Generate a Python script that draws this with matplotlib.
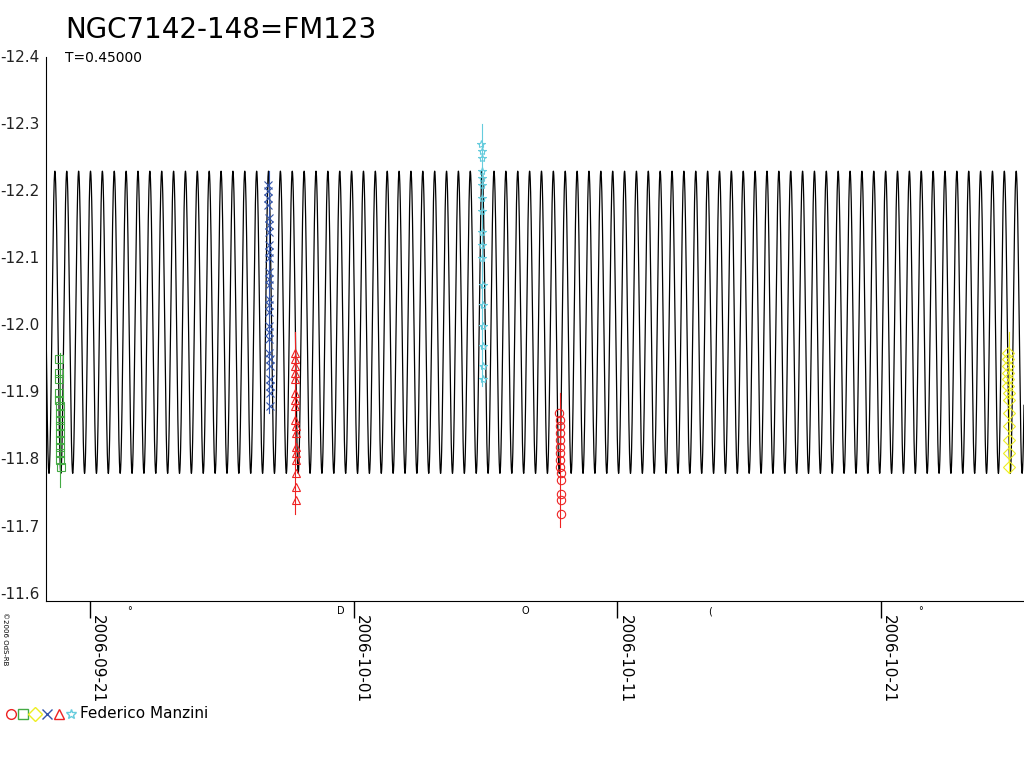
import numpy as np
import matplotlib.pyplot as plt
import matplotlib.dates as mdates
import matplotlib.transforms as mtransforms
from datetime import datetime

title = "NGC7142-148=FM123"
period = 0.45
model_lo, model_hi = -12.23, -11.78
t0 = mdates.date2num(datetime(2006, 9, 19, 8))
t1 = mdates.date2num(datetime(2006, 10, 26, 10))

# observing nights: (centre date, marker, colour, magnitudes)
night_dates = ["2006-09-19 20:30", "2006-09-27 19:00", "2006-09-28 19:00",
               "2006-10-05 21:00", "2006-10-08 20:00", "2006-10-25 20:00"]
night_markers = ["s", "x", "^", "*", "o", "D"]
night_colors = ["#44aa44", "#3355aa", "#ee2222", "#66ccdd", "#ee2222", "#eeee22"]
night_mags = [
    [-11.95, -11.93, -11.92, -11.90, -11.89, -11.88, -11.87, -11.86, -11.85, -11.84, -11.83, -11.82, -11.81, -11.80, -11.79],
    [-12.21, -12.20, -12.19, -12.18, -12.16, -12.15, -12.14, -12.12, -12.11, -12.10, -12.08, -12.07, -12.06, -12.04, -12.03,
     -12.02, -12.00, -11.99, -11.98, -11.96, -11.95, -11.94, -11.92, -11.91, -11.90, -11.88],
    [-11.96, -11.95, -11.94, -11.93, -11.92, -11.90, -11.89, -11.88, -11.86, -11.85, -11.84, -11.82, -11.81, -11.80, -11.78, -11.76, -11.74],
    [-12.27, -12.26, -12.25, -12.23, -12.22, -12.21, -12.19, -12.17, -12.14, -12.12, -12.10, -12.06, -12.03, -12.00, -11.97, -11.94, -11.92],
    [-11.87, -11.86, -11.85, -11.84, -11.83, -11.82, -11.81, -11.80, -11.79, -11.78, -11.77, -11.75, -11.74, -11.72],
    [-11.96, -11.95, -11.94, -11.93, -11.92, -11.91, -11.90, -11.89, -11.87, -11.85, -11.83, -11.81, -11.79],
]
night_err = [[-11.96, -11.76], [-12.23, -11.87], [-11.99, -11.72], [-12.30, -11.91], [-11.90, -11.70], [-11.99, -11.78]]

tick_dates = ["2006-09-21", "2006-10-01", "2006-10-11", "2006-10-21"]
moon_dates = ["2006-09-22 12:00", "2006-09-30 12:00", "2006-10-07 12:00", "2006-10-14 12:00", "2006-10-22 12:00"]
moon_syms = ["\u00b0", "D", "O", "(", "\u00b0"]

fig = plt.figure(figsize=(10.24, 7.68), dpi=100)
ax = fig.add_axes([46 / 1024, 1 - 601 / 768, 1 - 46 / 1024, (601 - 57) / 768])

t = np.linspace(t0, t1, 20000)
mid = (model_lo + model_hi) / 2
amp = (model_hi - model_lo) / 2
ax.plot(t, mid + amp * np.sin(2 * np.pi * (t - t0) / period), color="black", lw=0.9)

for d, m, c, mags, er in zip(night_dates, night_markers, night_colors, night_mags, night_err):
    x = mdates.date2num(datetime.strptime(d, "%Y-%m-%d %H:%M"))
    xs = x + np.linspace(-0.03, 0.03, len(mags))
    ax.plot([x, x], er, color=c, lw=0.8)
    ax.plot(xs, mags, ls="none", marker=m, markersize=6, mfc="none", mec=c, mew=0.8, zorder=3)

ax.set_xlim(t0, t1)
ax.set_ylim(-11.59, -12.4)
ax.set_yticks([-12.4, -12.3, -12.2, -12.1, -12.0, -11.9, -11.8, -11.7, -11.6])
ax.set_yticklabels([])
for v in ax.get_yticks():
    fig.text(0.0, ax.transData.transform((0, v))[1] / 768, f"{v:.1f}", fontsize=11, va="center", ha="left", color="#222222")
ax.tick_params(axis="y", length=0)
ax.set_xticks([mdates.date2num(datetime.strptime(s, "%Y-%m-%d")) for s in tick_dates])
ax.set_xticklabels([])
ax.tick_params(axis="x", direction="out", length=12, width=1)
tr = mtransforms.blended_transform_factory(ax.transData, ax.transAxes)
for s in tick_dates:
    x = mdates.date2num(datetime.strptime(s, "%Y-%m-%d"))
    ax.text(x, -0.025, s, transform=tr, rotation=-90, ha="left", va="top", fontsize=11)
for d, sym in zip(moon_dates, moon_syms):
    x = mdates.date2num(datetime.strptime(d, "%Y-%m-%d %H:%M"))
    ax.text(x, -0.01, sym, transform=tr, ha="center", va="top", fontsize=7)
for sp in ["top", "right"]:
    ax.spines[sp].set_visible(False)

fig.text(65 / 1024, 1 - 30 / 768, title, fontsize=20, va="center")
fig.text(65 / 1024, 1 - 58 / 768, "T=0.45000", fontsize=10, va="center")
fig.text(2 / 1024, 1 - 612 / 768, "\u00a92006 OdS-RB", fontsize=5, rotation=-90, va="top", ha="left")

lx = 6
for m, c in zip(["o", "s", "D", "x", "^", "*"], ["#ee2222", "#44aa44", "#eeee22", "#3355aa", "#ee2222", "#66ccdd"]):
    fig.lines.append(plt.Line2D([(lx + 5) / 1024], [1 - 714 / 768], marker=m, markersize=7, mfc="none", mec=c, lw=0, transform=fig.transFigure))
    lx += 12
fig.text(80 / 1024, 1 - 713 / 768, "Federico Manzini", fontsize=11, va="center")

fig.savefig("out.png", dpi=100)
